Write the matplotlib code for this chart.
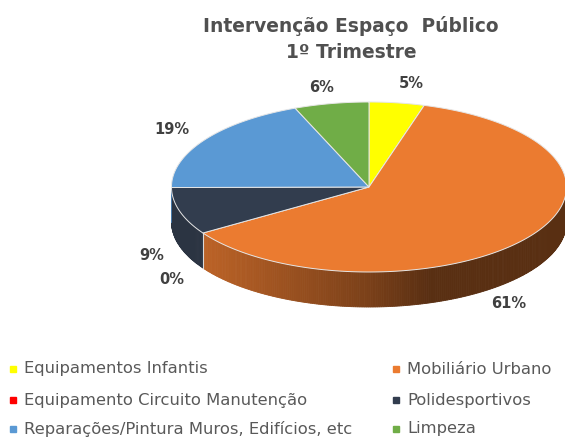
import numpy as np
import matplotlib
matplotlib.use("Agg")
import matplotlib.pyplot as plt
from matplotlib import font_manager as fm
from matplotlib.colors import to_rgb

categories = ["Equipamentos Infantis", "Mobiliário Urbano", "Equipamento Circuito Manutenção",
              "Polidesportivos", "Reparações/Pintura Muros, Edifícios, etc", "Limpeza"]
values = [4.51, 61.39, 0, 9.0, 19.0, 6.1]
colors = ["#FFFF00", "#EB7B30", "#FF0000", "#323D4E", "#5A99D4", "#70AD47"]
title = "Intervenção Espaço  Público\n1º Trimestre"

W, H = 565, 437
CX, CY, RX, RY, DEPTH = 369, 187, 197.5, 85, 35

def pick(name, bold):
    """Pick the upright, normal-width face, not a condensed one."""
    best = None
    for f in fm.fontManager.ttflist:
        if f.name != name or f.style != "normal":
            continue
        w = f.weight if isinstance(f.weight, int) else (700 if f.weight == "bold" else 400)
        low = f.fname.lower()
        score = abs(w - (700 if bold else 400)) + (1000 if "condensed" in low else 0)
        if "bold" in low and not bold:
            score += 500
        if best is None or score < best[0]:
            best = (score, f.fname)
    return fm.FontProperties(fname=best[1])

reg = pick("DejaVu Sans", False)
bold = pick("DejaVu Sans", True)

fig = plt.figure(figsize=(W/100, H/100), dpi=100)
ax = fig.add_axes([0, 0, 1, 1])
ax.set_xlim(0, W); ax.set_ylim(H, 0); ax.axis("off")

def pt(theta):
    return CX + RX*np.sin(theta), CY - RY*np.cos(theta)

cum = np.cumsum([0] + values) / sum(values) * 2*np.pi

def side_shade(i, theta):
    if i == 3:
        return 0.85
    t = (np.sin(theta) + 1) / 2
    return np.interp(t, [0.08, 0.5, 0.65, 1.0], [0.80, 0.52, 0.38, 0.38])

# side walls
for i, v in enumerate(values):
    if v == 0:
        continue
    a0, a1 = cum[i], cum[i+1]
    c = np.array(to_rgb(colors[i]))
    lo, hi = max(a0, np.pi/2), min(a1, 3*np.pi/2)
    if hi <= lo:
        continue
    edges = np.linspace(lo, hi, int((hi-lo)*90)+2)
    for t0, t1 in zip(edges[:-1], edges[1:]):
        ts = np.linspace(t0, t1, 3)
        x, y = pt(ts)
        xs = np.r_[x, x[::-1]]
        ys = np.r_[y, y[::-1] + DEPTH]
        s = side_shade(i, (t0+t1)/2)
        ax.fill(xs, ys, color=c*s, lw=0.6, zorder=2)

x, y = pt(cum[2])
ax.plot([x, x], [y, y+DEPTH], color="#d9d9d9", lw=0.8, zorder=3)

# top wedges
for i, v in enumerate(values):
    if v == 0:
        continue
    ts = np.linspace(cum[i], cum[i+1], 200)
    x, y = pt(ts)
    ax.fill(np.r_[CX, x], np.r_[CY, y], facecolor=colors[i], edgecolor="#e6e6e6", lw=0.7, zorder=4)

# data labels
label_pos = [(411, 84), (509, 303), (172, 279), (152, 256), (172, 129), (322, 88)]
for v, (lx, ly) in zip(values, label_pos):
    t = ax.text(lx, ly, f"{v:.0f}%", ha="center", va="center", color="#404040", zorder=5,
                fontproperties=bold)
    t.set_fontsize(10.5)

t = ax.text(351, 39, title, ha="center", va="center", color="#505050", linespacing=1.4,
            fontproperties=bold)
t.set_fontsize(13.4)

# legend
leg_pos = [(13, 369), (396, 369), (13, 400), (396, 400), (13, 429), (396, 429)]
for name, col, (lx, ly) in zip(categories, colors, leg_pos):
    ax.add_patch(plt.Rectangle((lx-3, ly-3), 6, 6, color=col))
    t = ax.text(lx+11, ly, name, ha="left", va="center", color="#595959", fontproperties=reg)
    t.set_fontsize(11.8)

fig.savefig("out.png", dpi=100)
